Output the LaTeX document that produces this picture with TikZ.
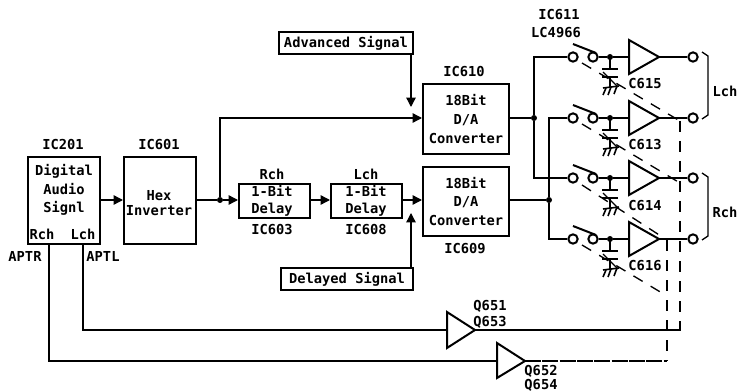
\documentclass[tikz,border=0pt]{standalone}
\usepackage{fontspec}
\setmainfont{DejaVu Sans Mono}
\usetikzlibrary{arrows.meta}
\tikzset{
  lbl/.style={font=\bfseries\fontsize{10.3}{11.5}\selectfont,inner sep=0pt,align=center},
  blockbox/.style={draw,line width=1.5pt,inner sep=0pt,align=center,font=\bfseries\fontsize{10.3}{14}\selectfont},
  sig/.style={line width=1pt},
  arr/.style={line width=1pt,-{Triangle[length=7pt,width=7pt]}},
  gang/.style={line width=1pt,dash pattern=on 8pt off 7pt},
  term/.style={circle,draw,line width=1.5pt,minimum size=7pt,inner sep=0pt},
  dot/.style={circle,fill,minimum size=4.5pt,inner sep=0pt},
  amp/.style={line width=1.5pt}
}
\newcommand{\boxat}[6]{\node[blockbox,minimum width=#3*0.75pt,minimum height=#4*0.75pt,anchor=north west] (#5) at (#1,#2) {#6};}
\begin{document}
\begin{tikzpicture}[x=0.75pt,y=-0.75pt]
\useasboundingbox (0,0) rectangle (739,392);
% blocks
\boxat{27}{156}{72}{87}{dac}{}
\boxat{123}{156}{72}{87}{hex}{}
\boxat{238}{183}{71}{34}{d1}{}
\boxat{330}{183}{71}{34}{d2}{}
\boxat{422}{83}{86}{70}{da1}{18Bit\\D/A\\Converter}
\boxat{422}{166}{86}{69}{da2}{18Bit\\D/A\\Converter}
\boxat{278}{31}{134}{22}{adv}{Advanced Signal}
\boxat{280}{267}{132}{22}{del}{Delayed Signal}
\node[lbl,font=\bfseries\fontsize{10.3}{14}\selectfont] (dactxt) at (64,190) {Digital\\Audio\\Signl};
\node[lbl,font=\bfseries\fontsize{10.3}{11}\selectfont] (hextxt) at (159,203) {Hex\\Inverter};
\node[lbl,font=\bfseries\fontsize{10.3}{12.5}\selectfont] (d1txt) at (272,201) {1-Bit\\Delay};
\node[lbl,font=\bfseries\fontsize{10.3}{12.5}\selectfont] (d2txt) at (366,201) {1-Bit\\Delay};
\node[lbl] (trch) at (42,234) {Rch};
\node[lbl] (tlch) at (83,234) {Lch};
\node[lbl] (l201) at (63,145) {IC201};
\node[lbl] (l601) at (159,145) {IC601};
\node[lbl] (aptr) at (25,256) {APTR};
\node[lbl] (aptl) at (103,256) {APTL};
\node[lbl] (lr) at (272,174) {Rch};
\node[lbl] (ll) at (366,174) {Lch};
\node[lbl] (l603) at (272,230) {IC603};
\node[lbl] (l608) at (366,230) {IC608};
\node[lbl] (l610) at (464,72) {IC610};
\node[lbl] (l609) at (465,249) {IC609};
\node[lbl] (l611) at (559,15) {IC611};
\node[lbl] (l4966) at (556,33) {LC4966};
\node[lbl] (lc615) at (645,84) {C615};
\node[lbl] (lc613) at (645,145) {C613};
\node[lbl] (lc614) at (645,206) {C614};
\node[lbl] (lc616) at (645,266) {C616};
\node[lbl] (lL) at (725,91) {Lch};
\node[lbl] (lR) at (725,212) {Rch};
\node[lbl] (q651) at (490,306) {Q651};
\node[lbl] (q653) at (490,322) {Q653};
\node[lbl] (q652) at (541,371) {Q652};
\node[lbl] (q654) at (541,385) {Q654};
% junctions
\node[dot] (j1) at (220,200) {};
\node[dot] (j2) at (534,118) {};
\node[dot] (j3) at (549,200) {};
% main signal path
\draw[arr] (dac.east |- 0,200) -- (hex.west |- 0,200);
\draw[sig] (hex.east |- 0,200) -- (j1);
\draw[arr] (j1) -- (d1.west |- 0,200);
\draw[arr] (d1.east |- 0,200) -- (d2.west |- 0,200);
\draw[arr] (d2.east |- 0,200) -- (da2.west |- 0,200);
\draw[arr] (j1) |- (da1.west |- 0,118);
\coordinate (advb) at (411,53);
\coordinate (delt) at (411,267);
\draw[arr] (advb) -- (411,107);
\draw[arr] (delt) -- (411,213);
\draw[sig] (da1.east |- 0,118) -- (j2);
\draw[sig] (da2.east |- 0,200) -- (j3);
% channels
\foreach \n/\y in {a/57,b/118,c/178,d/239}{
  \node[term] (s\n) at (573,\y) {};
  \node[term] (t\n) at (593,\y) {};
  \node[term] (o\n) at (693,\y) {};
  \draw[line width=1.5pt] (573,\y-13) -- (596,\y-4);
  \node[dot] (n\n) at (610,\y) {};
  \draw[sig] (t\n) -- (n\n) -- (629,\y);
  \draw[amp] (629,\y-17) -- (659,\y) -- (629,\y+17) -- cycle;
  \draw[sig] (659,\y) -- (o\n);
  % capacitor
  \draw[sig] (610,\y) -- (610,\y+12);
  \draw[line width=1.5pt] (602,\y+12) -- (618,\y+12);
  \draw[line width=1.5pt] (602,\y+20) -- (618,\y+20);
  \draw[sig] (610,\y+20) -- (610,\y+30);
  \draw[line width=1.2pt] (603,\y+31) -- (619,\y+29);
  \draw[line width=1.2pt] (606,\y+31) -- (603,\y+38) (611,\y+30) -- (608,\y+38) (617,\y+29) -- (614,\y+37);
  \draw[sig] (603,\y+15) -- (618,\y+30);
}
\draw[sig] (j2) |- (sa);
\draw[sig] (j2) |- (sc);
\draw[sig] (j3) |- (sb);
\draw[sig] (j3) |- (sd);
% brackets
\draw[sig] (702,52) -- (708,56) -- (708,115) -- (702,119);
\draw[sig] (702,173) -- (708,177) -- (708,236) -- (702,240);
% ganged dashes
\coordinate (v1a) at (680,121);
\coordinate (v1b) at (680,331);
\coordinate (v2a) at (667,240);
\coordinate (v2b) at (667,361);
\draw[gang] (582,63) -- (v1a);
\draw[gang] (582,124) -- (680,183);
\draw[gang] (582,185) -- (v2a);
\draw[gang] (582,245) -- (667,296);
\draw[gang] (v1a) -- (v1b);
\draw[gang] (v2a) -- (v2b);
% bottom buffers
\draw[amp] (447,312) -- (475,330) -- (447,348) -- cycle;
\draw[amp] (497,343) -- (525,361) -- (497,378) -- cycle;
\coordinate (c1) at (83,330);
\coordinate (c2) at (49,361);
\draw[sig] (tlch |- dac.south) -- (c1) -- (447,330);
\draw[sig] (49,243) -- (c2) -- (497,361);
\draw[sig] (475,330) -- (680,330);
\draw[sig,dash pattern=on 12pt off 1pt] (525,361) -- (v2b);
\end{tikzpicture}
\end{document}
